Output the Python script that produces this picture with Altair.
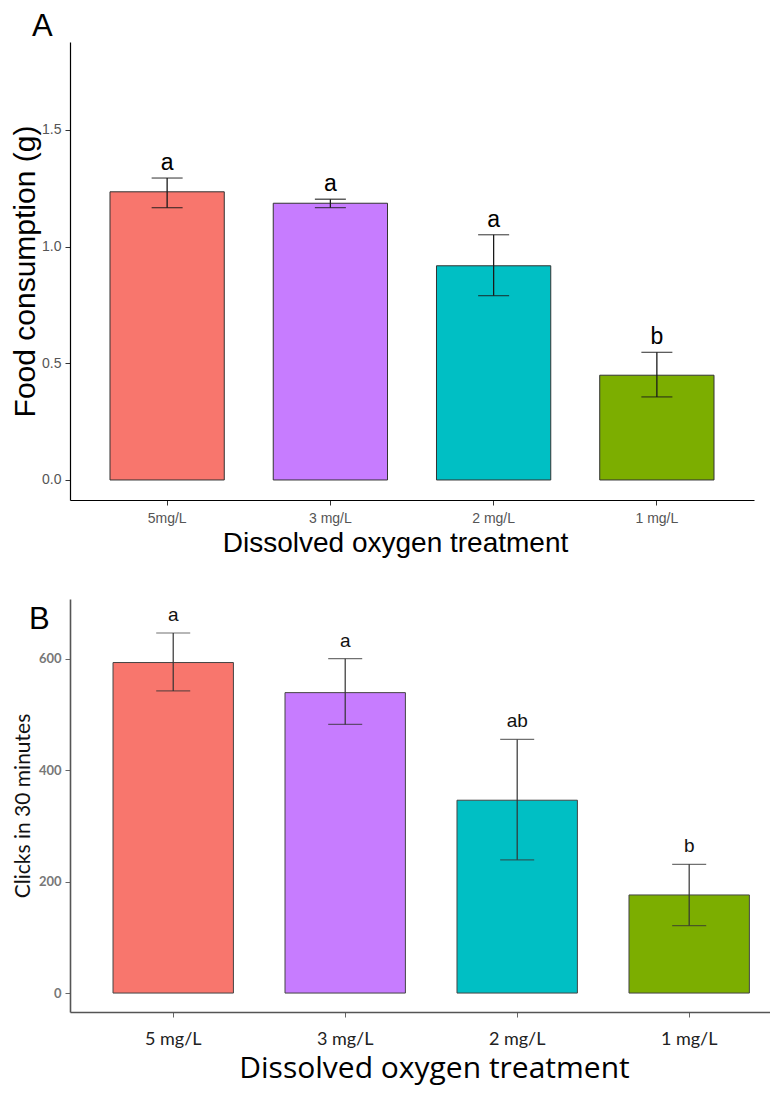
import altair as alt
import pandas as pd

# ---------------- data ----------------
treat_a = ["5mg/L", "3 mg/L", "2 mg/L", "1 mg/L"]
treat_b = ["5 mg/L", "3 mg/L", "2 mg/L", "1 mg/L"]
bar_colors = ["#F8766D", "#C77CFF", "#00BFC4", "#7CAE00"]

food_mean = [1.235, 1.186, 0.918, 0.449]
food_low = [1.167, 1.167, 0.790, 0.356]
food_high = [1.294, 1.203, 1.051, 0.547]
food_letters = ["a", "a", "a", "b"]

clicks_mean = [593, 539, 346, 176]
clicks_low = [542, 482, 239, 121]
clicks_high = [646, 600, 455, 231]
clicks_letters = ["a", "a", "ab", "b"]

df_a = pd.DataFrame({"treatment": treat_a, "mean": food_mean, "low": food_low,
                     "high": food_high, "letter": food_letters, "color": bar_colors})
df_b = pd.DataFrame({"treatment": treat_b, "mean": clicks_mean, "low": clicks_low,
                     "high": clicks_high, "letter": clicks_letters, "color": bar_colors})

ARIAL = "Liberation Sans"
CAL = "Lato"
WIDE = "Open Sans"

# ---------------- panel A ----------------
xa = alt.X("treatment:N", sort=treat_a,
           scale=alt.Scale(paddingInner=0.3, paddingOuter=0.245),
           axis=alt.Axis(title="Dissolved oxygen treatment", labelAngle=0,
                         labelFont=ARIAL, labelFontSize=14, labelColor="#555555",
                         tickColor="#333333", tickSize=5, tickWidth=1,
                         domainColor="#000000", domainWidth=1.2,
                         labelPadding=6, titleFont=ARIAL, titleFontSize=28,
                         titleFontWeight="normal", titleColor="#000000",
                         titlePadding=4, titleX=325))
ya_axis = alt.Axis(values=[0, 0.5, 1.0, 1.5], format=".1f", grid=False,
                   labelFont=ARIAL, labelFontSize=14, labelColor="#555555",
                   tickColor="#333333", tickSize=5, tickWidth=1,
                   domainColor="#000000", domainWidth=1.2, labelPadding=4,
                   titleFont=ARIAL, titleFontSize=30, titleFontWeight="normal",
                   titleColor="#000000", titlePadding=1)
ya_scale = alt.Scale(domain=[-0.0858, 1.877], nice=False, zero=False)
TA = "Food consumption (g)"

bars_a = alt.Chart(df_a).mark_bar(stroke="#333333", strokeWidth=1).encode(
    x=xa, y=alt.Y("mean:Q", scale=ya_scale, axis=ya_axis, title=TA),
    y2=alt.datum(0), color=alt.Color("color:N", scale=None))
rule_a = alt.Chart(df_a).mark_rule(color="#1a1a1a", strokeWidth=1.3).encode(
    x=xa, y=alt.Y("low:Q", title=TA), y2="high:Q")
caph_a = alt.Chart(df_a).mark_tick(size=31, thickness=1.3, color="#1a1a1a", orient="horizontal").encode(
    x=xa, y=alt.Y("high:Q", title=TA))
capl_a = alt.Chart(df_a).mark_tick(size=31, thickness=1.3, color="#1a1a1a", orient="horizontal").encode(
    x=xa, y=alt.Y("low:Q", title=TA))
text_a = alt.Chart(df_a).mark_text(dy=-3, baseline="bottom", font=ARIAL, fontSize=23,
                                   color="#000000").encode(
    x=xa, y=alt.Y("high:Q", title=TA), text="letter:N")
tag_a = alt.Chart(pd.DataFrame({"tag": ["A"]})).mark_text(
    font=ARIAL, fontSize=31, align="left", baseline="alphabetic", color="#000000").encode(
    text="tag:N", x=alt.value(-38), y=alt.value(-6))

panel_a = alt.layer(bars_a, rule_a, caph_a, capl_a, text_a, tag_a).properties(width=684, height=458)

# ---------------- panel B ----------------
xb = alt.X("treatment:N", sort=treat_b,
           scale=alt.Scale(paddingInner=0.3, paddingOuter=0.185, align=0.676),
           axis=alt.Axis(title="Dissolved oxygen treatment", labelAngle=0,
                         labelFont=CAL, labelFontSize=18, labelColor="#222222",
                         tickColor="#666666", tickSize=5, tickWidth=1,
                         domainColor="#555555", domainWidth=1.6,
                         labelPadding=13, titleFont=WIDE, titleFontSize=30,
                         titleFontWeight="normal", titleColor="#000000",
                         titlePadding=5, titleX=364))
yb_axis = alt.Axis(values=[0, 200, 400, 600], grid=False,
                   labelFont=CAL, labelFontSize=13, labelFontWeight="bold",
                   labelColor="#777777", tickColor="#666666", tickSize=5, tickWidth=1,
                   domainColor="#555555", domainWidth=1.6, labelPadding=4,
                   titleFont=CAL, titleFontSize=21, titleFontWeight="normal",
                   titleColor="#111111", titlePadding=5)
yb_scale = alt.Scale(domain=[-34, 707], nice=False, zero=False)
TB = "Clicks in 30 minutes"

bars_b = alt.Chart(df_b).mark_bar(stroke="#444444", strokeWidth=1).encode(
    x=xb, y=alt.Y("mean:Q", scale=yb_scale, axis=yb_axis, title=TB),
    y2=alt.datum(0), color=alt.Color("color:N", scale=None))
rule_b = alt.Chart(df_b).mark_rule(color="#333333", strokeWidth=1.2).encode(
    x=xb, y=alt.Y("low:Q", title=TB), y2="high:Q")
caph_b = alt.Chart(df_b).mark_tick(size=34, thickness=1.2, color="#333333", orient="horizontal").encode(
    x=xb, y=alt.Y("high:Q", title=TB))
capl_b = alt.Chart(df_b).mark_tick(size=34, thickness=1.2, color="#333333", orient="horizontal").encode(
    x=xb, y=alt.Y("low:Q", title=TB))
text_b = alt.Chart(df_b).mark_text(dy=-8, baseline="bottom", font=ARIAL, fontSize=19,
                                   color="#111111").encode(
    x=xb, y=alt.Y("high:Q", title=TB), text="letter:N")
tag_b = alt.Chart(pd.DataFrame({"tag": ["B"]})).mark_text(
    font=ARIAL, fontSize=31, align="left", baseline="alphabetic", color="#000000").encode(
    text="tag:N", x=alt.value(-41), y=alt.value(30))

panel_b = alt.layer(bars_b, rule_b, caph_b, capl_b, text_b, tag_b).properties(width=700, height=413)

chart = alt.vconcat(panel_a, panel_b, spacing=42).properties(
    padding={"top": 3, "left": 2, "right": 0, "bottom": 6},
    background="white"
).configure_view(stroke=None)

chart.save("out.html", embed_options={"renderer": "svg", "actions": False})
